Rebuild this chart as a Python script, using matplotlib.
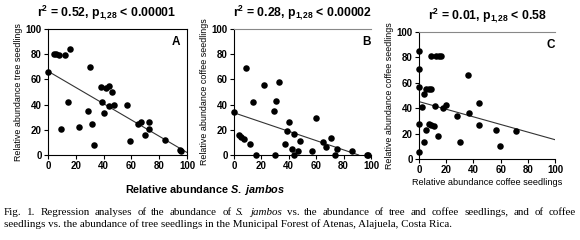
import matplotlib
matplotlib.use('Agg')
import matplotlib.pyplot as plt
import numpy as np

plt.rcParams['font.family'] = ['Liberation Sans', 'DejaVu Sans']
plt.rcParams['mathtext.fontset'] = 'custom'
plt.rcParams['mathtext.rm'] = 'Liberation Sans:bold'
plt.rcParams['mathtext.it'] = 'Liberation Sans:bold:italic'
plt.rcParams['mathtext.bf'] = 'Liberation Sans:bold'

# Panel A: S. jambos vs tree seedlings
a_x = [0, 4, 5.5, 8, 12, 16, 14.4, 9, 22, 30, 29, 31.4, 33, 38, 39, 40, 42, 44, 46,
       44, 47.5, 57, 59, 65, 67, 73, 73, 70, 84, 95, 96]
a_y = [65.5, 80, 80, 79.6, 79, 84, 42.4, 21, 22, 70, 35, 25, 8, 54, 42, 33, 53, 55, 50,
       38.5, 40, 40, 11, 25, 26, 26, 21, 16, 12, 4, 3]
a_fit = (66.5, -0.645)

# Panel B: S. jambos vs coffee seedlings
b_x = [0, 3.4, 5.4, 7.3, 8.5, 12, 14, 16, 22, 29, 30, 31, 32.7, 40, 39, 37.5, 42, 44,
       44, 47, 48, 57, 59.5, 65, 67, 70.7, 75, 74, 86, 97, 97.5]
b_y = [34.5, 16, 14.6, 12.7, 69, 8.5, 42.4, 0, 55.7, 35, 0, 42.7, 58, 26.5, 19, 8.5,
       5, 16.4, 0, 3.4, 11.4, 3, 29.4, 10, 6.6, 13.5, 4.5, 0, 3.4, 0, 0]
b_fit = (33.5, -0.368)

# Panel C: coffee seedlings vs tree seedlings
c_x = [0, 0, 0, 0, 0, 2.2, 3.7, 5.4, 7, 9, 8.6, 12.8, 14.7, 16.5, 12, 5, 3.7, 7.4, 9,
       10.8, 14, 17.7, 19.7, 28, 30, 36, 36.6, 44, 44, 56.5, 59.5, 71]
c_y = [85, 71, 57, 27.7, 5.7, 41, 51, 55, 55, 55, 81, 81, 81, 81, 41.8, 23, 13, 27.7, 27,
       26, 17.8, 40, 42.5, 34, 13, 66, 36, 44, 26.6, 23, 10.4, 22]
c_fit = (45.2, -0.30)

titles = ['r$^2$ = 0.52, p$_{1{,}28}$ < 0.00001',
          'r$^2$ = 0.28, p$_{1{,}28}$ < 0.00002',
          'r$^2$ = 0.01, p$_{1{,}28}$ < 0.58']
letters = ['A', 'B', 'C']
ylabels = ['Relative abundance tree seedlings',
           'Relative abundance coffee seedlings',
           'Relative abundance coffee seedlings']
ticks = [0, 20, 40, 60, 80, 100]

cap1 = ('Fig. 1. Regression analyses of the abundance of S. jambos vs. the '
        'abundance of tree and coffee seedlings, and of coffee')
cap2 = ('seedlings vs. the abundance of tree seedlings in the Municipal Forest of '
        'Atenas, Alajuela, Costa Rica.')
italic_words = ['S.', 'jambos']

W, H = 580, 240
fig = plt.figure(figsize=(W / 100, H / 100), dpi=100)

# axes boxes in pixels: left, right, top, bottom
boxes = [(48, 187, 29, 155), (234, 371, 29, 155), (419, 555, 32, 159)]
data = [(a_x, a_y, a_fit), (b_x, b_y, b_fit), (c_x, c_y, c_fit)]

for i, (l, r, t, b) in enumerate(boxes):
    ax = fig.add_axes([l / W, 1 - b / H, (r - l) / W, (b - t) / H])
    x, y, (b0, b1) = data[i]
    ax.scatter(x, y, s=22, color='black', zorder=3, clip_on=False, linewidths=0)
    xf = np.linspace(0, 100, 200)
    yf = b0 + b1 * xf
    keep = yf >= 0
    ax.plot(xf[keep], yf[keep], color='#333333', lw=0.8, zorder=2)
    ax.set_xlim(0, 100)
    ax.set_ylim(0, 100)
    ax.set_xticks(ticks)
    ax.set_yticks(ticks)
    ax.tick_params(direction='out', length=3, width=0.8, labelsize=7, pad=1.5)
    for lab in ax.get_xticklabels() + ax.get_yticklabels():
        lab.set_fontweight('bold')
    for s in ax.spines.values():
        s.set_linewidth(0.8)
    if i > 0:
        ax.spines['right'].set_visible(False)
        ax.spines['top'].set_color('#888888')
    ax.set_ylabel(ylabels[i], fontsize=6.4, labelpad=2)
    ax.text(0.42 if i == 0 else 0.5, 1 + 7 / (b - t), titles[i],
            transform=ax.transAxes, ha='center', va='bottom', fontsize=8.8,
            fontweight='bold')
    ax.text(0.92 if i == 0 else 0.97, 0.9, letters[i], transform=ax.transAxes,
            ha='center', va='center', fontsize=8.5, fontweight='bold')
    if i == 2:
        ax.set_xlabel('Relative abundance coffee seedlings', fontsize=6.6, labelpad=2)

fig.text(205 / W, 1 - 190 / H, 'Relative abundance $S.\\ \\mathit{jambos}$',
         ha='center', va='center', fontsize=7.8, fontweight='bold')

# caption, first line justified to the right edge word by word
renderer = fig.canvas.get_renderer()
cap_size = 7.9
words = cap1.split(' ')
texts = []
for w in words:
    style = 'italic' if w in italic_words else 'normal'
    texts.append(fig.text(0, 1 - 215 / H, w, ha='left', va='baseline',
                          family='Liberation Serif', size=cap_size, style=style))
widths = [tx.get_window_extent(renderer).width for tx in texts]
gap = (576 - 4 - sum(widths)) / (len(words) - 1)
xpos = 4
for tx, w in zip(texts, widths):
    tx.set_x(xpos / W)
    xpos += w + gap

fig.text(4 / W, 1 - 227 / H, cap2, ha='left', va='baseline',
         family='Liberation Serif', size=cap_size)

fig.savefig('out.png', dpi=100)
